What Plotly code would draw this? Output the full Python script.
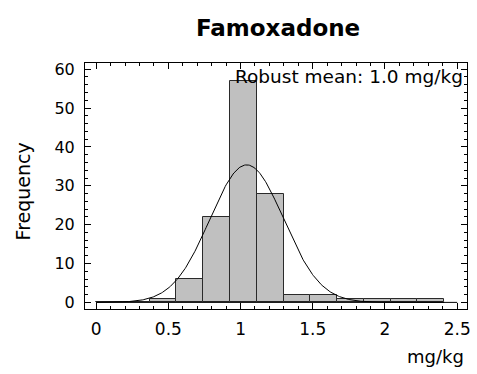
import numpy as np
import plotly.graph_objects as go

# Histogram of reported results (mg/kg)
bin_width = 0.1854
bin_starts = [i * bin_width for i in range(13)]
counts = [0, 0, 1, 6, 22, 57, 28, 2, 2, 1, 1, 1, 1]

# Normal fit parameters
robust_mean = 1.043
robust_sd = 0.255

n_total = sum(counts)
centers = [s + bin_width / 2 for s in bin_starts]
x_end = bin_starts[-1] + bin_width

xs = np.linspace(0, x_end, 400)
ys = n_total * bin_width / (robust_sd * np.sqrt(2 * np.pi)) * np.exp(-0.5 * ((xs - robust_mean) / robust_sd) ** 2)

FONT = "DejaVu Sans"

fig = go.Figure()
fig.add_trace(go.Bar(
    x=centers, y=counts, width=bin_width,
    marker=dict(color="#c0c0c0", line=dict(color="#2a2a2a", width=1)),
    showlegend=False,
))
# baseline at zero
fig.add_trace(go.Scatter(
    x=[0, 2.5], y=[0, 0], mode="lines",
    line=dict(color="black", width=1), showlegend=False,
))
fig.add_trace(go.Scatter(
    x=xs, y=ys, mode="lines",
    line=dict(color="black", width=1), showlegend=False,
))

axis_common = dict(
    showgrid=False, zeroline=False, showline=True, linecolor="black", linewidth=1,
    mirror="ticks", ticks="inside", tickcolor="black", ticklen=6,
)

fig.update_xaxes(
    range=[-0.077, 2.568],
    tickvals=[0, 0.5, 1, 1.5, 2, 2.5], ticktext=["0", "0.5", "1", "1.5", "2", "2.5"],
    minor=dict(dtick=0.1, tick0=0, ticks="inside", ticklen=3, tickcolor="black"),
    tickfont=dict(family=FONT, size=17, color="black"),
    ticklabelstandoff=5,
    **axis_common,
)
fig.update_yaxes(
    range=[-1.7, 61.6], tickmode="linear", tick0=0, dtick=10,
    minor=dict(dtick=2, tick0=0, ticks="inside", ticklen=3, tickcolor="black"),
    tickfont=dict(family=FONT, size=16, color="black"),
    ticklabelstandoff=6,
    **axis_common,
)

fig.add_annotation(
    x=0.995, y=58.0, xref="paper", yref="y", xanchor="right", yanchor="middle",
    text="Robust mean: 1.0 mg/kg", showarrow=False,
    font=dict(family=FONT, size=18.5, color="black"),
)
fig.add_annotation(
    x=0.998, y=-0.195, xref="paper", yref="paper", xanchor="right", yanchor="middle",
    text="mg/kg", showarrow=False,
    font=dict(family=FONT, size=18, color="black"),
)
fig.add_annotation(
    x=-0.163, y=0.477, xref="paper", yref="paper", xanchor="center", yanchor="middle",
    text="Frequency", showarrow=False, textangle=-90,
    font=dict(family=FONT, size=19, color="black"),
)

fig.update_layout(
    width=477, height=374,
    margin=dict(l=85, r=6, t=63, b=65),
    paper_bgcolor="white", plot_bgcolor="white",
    title=dict(text="<b>Famoxadone</b>", x=0.583, xanchor="center", y=0.925, yanchor="middle",
               font=dict(family=FONT, size=23, color="black")),
    bargap=0,
)

fig.write_html("out.html")
